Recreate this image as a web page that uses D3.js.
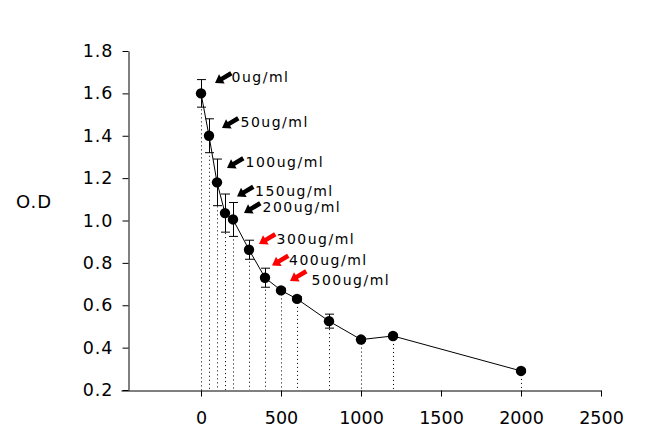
<!DOCTYPE html>
<html><head><meta charset="utf-8">
<script src="https://cdn.jsdelivr.net/npm/d3@7"></script>
<style>body{margin:0;background:#fff}svg{display:block}text{font-family:"DejaVu Sans",sans-serif}</style>
</head><body>
<script>
// Data
const concentrations = [0, 50, 100, 150, 200, 300, 400, 500, 600, 800, 1000, 1200, 2000];
const odValues       = [1.60, 1.40, 1.18, 1.035, 1.005, 0.862, 0.73, 0.67, 0.63, 0.525, 0.438, 0.455, 0.29];
const odErrors       = [0.065, 0.08, 0.11, 0.09, 0.08, 0.045, 0.045, 0.01, 0.01, 0.033, 0.008, 0.008, 0.008];
const yTicks = [0.2, 0.4, 0.6, 0.8, 1.0, 1.2, 1.4, 1.6, 1.8];
const xTicks = [0, 500, 1000, 1500, 2000, 2500];
const annotationTexts  = ["0ug/ml","50ug/ml","100ug/ml","150ug/ml","200ug/ml","300ug/ml","400ug/ml","500ug/ml"];
const annotationColors = ["#000","#000","#000","#000","#000","#ff0000","#ff0000","#ff0000"];
const yTitle = "O.D";

// Layout (pixels)
const labelPos = [[231.5,77],[240.5,122],[245.5,161.5],[255,190.5],[262.5,206.5],[276.5,238.5],[289,259.5],[311.5,279.5]];
const arrowTip = [[215,83],[222,128],[227,168],[237,196.5],[244,213],[259,244],[272,265.5],[290,281]];

const W = 645, H = 443;
const svg = d3.select("body").append("svg").attr("width", W).attr("height", H);

const x = d3.scaleLinear().domain([-500, 2500]).range([121, 601]);
const y = d3.scaleLinear().domain([0.2, 1.8]).range([390, 51]);
const yAxisX = x(-455);

const data = concentrations.map((c, i) => ({c, v: odValues[i], e: odErrors[i]}));

// dotted drop lines
svg.append("g").selectAll("line").data(data).join("line")
  .attr("x1", d => x(d.c) + 0.5).attr("x2", d => x(d.c) + 0.5)
  .attr("y1", d => y(d.v)).attr("y2", y(0.2))
  .attr("stroke", "#000").attr("stroke-width", 1).attr("stroke-dasharray", "1,3");

// x axis
const xAxis = svg.append("g").attr("transform", `translate(0,${y(0.2) + 0.5})`)
  .call(d3.axisBottom(x).tickValues(xTicks).tickSize(6).tickSizeOuter(0).tickFormat(d3.format("d")));
xAxis.select(".domain").attr("stroke", "#000");
xAxis.selectAll(".tick line").attr("stroke", "#000");
xAxis.selectAll(".tick text").attr("font-size", "17.5px").attr("fill", "#000").attr("dy", null).attr("y", 33)
  .attr("font-family", '"DejaVu Sans",sans-serif');

// y axis
const yAxis = svg.append("g").attr("transform", `translate(${Math.round(yAxisX) + 0.5},0)`)
  .call(d3.axisLeft(y).tickValues(yTicks).tickSize(6).tickSizeOuter(0).tickFormat(d3.format(".1f")));
yAxis.select(".domain").attr("stroke", "#000");
yAxis.selectAll(".tick line").attr("stroke", "#000");
yAxis.selectAll(".tick text").attr("font-size", "17.5px").attr("fill", "#000").attr("x", -15)
  .attr("letter-spacing", "1px").attr("font-family", '"DejaVu Sans",sans-serif');

// y title
svg.append("text").attr("x", 34).attr("y", 208).attr("text-anchor", "middle")
  .attr("font-size", "18px").attr("letter-spacing", "1px").text(yTitle);

// line
svg.append("path").datum(data)
  .attr("d", d3.line().x(d => x(d.c)).y(d => y(d.v)))
  .attr("fill", "none").attr("stroke", "#000").attr("stroke-width", 1);

// error bars
const eg = svg.append("g").attr("stroke", "#000").attr("stroke-width", 1);
data.forEach(d => {
  const cx = Math.round(x(d.c)) + 0.5;
  const t = y(d.v + d.e), b = y(d.v - d.e);
  eg.append("line").attr("x1", cx).attr("x2", cx).attr("y1", t).attr("y2", b);
  eg.append("line").attr("x1", cx - 4.5).attr("x2", cx + 4.5).attr("y1", t).attr("y2", t);
  eg.append("line").attr("x1", cx - 4.5).attr("x2", cx + 4.5).attr("y1", b).attr("y2", b);
});

// markers
svg.append("g").selectAll("circle").data(data).join("circle")
  .attr("cx", d => x(d.c)).attr("cy", d => y(d.v)).attr("r", 5.2).attr("fill", "#000");

// annotations
const arrowPath = "M0,0 L8,-5.5 L8,-2.3 L19,-2.3 L19,2.3 L8,2.3 L8,5.5 Z";
annotationTexts.forEach((t, i) => {
  svg.append("path").attr("d", arrowPath)
    .attr("transform", `translate(${arrowTip[i][0]},${arrowTip[i][1]}) rotate(-31)`)
    .attr("fill", annotationColors[i]);
  svg.append("text").attr("x", labelPos[i][0]).attr("y", labelPos[i][1]).attr("dy", "0.36em")
    .attr("font-size", "14px").attr("letter-spacing", "1.5px").attr("fill", "#000").text(t);
});
</script>
</body></html>
